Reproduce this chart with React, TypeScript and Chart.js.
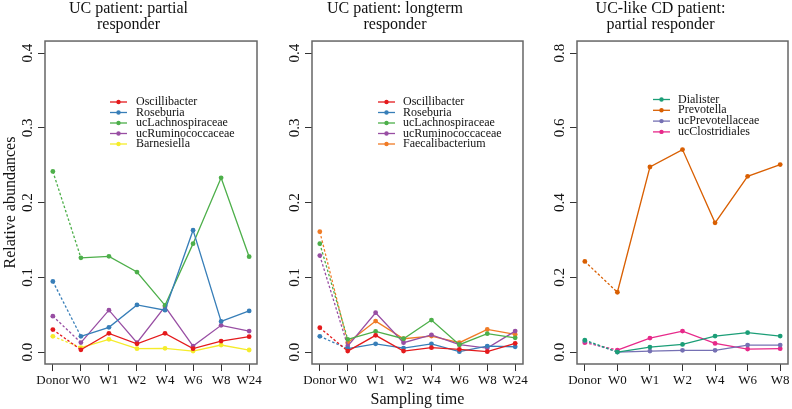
import React, { useEffect, useRef } from "react";
import { Chart, registerables } from "chart.js";

Chart.register(...registerables);

const FONT = "'Liberation Serif', 'DejaVu Serif', serif";

// categories
const weeksUC = ["Donor", "W0", "W1", "W2", "W4", "W6", "W8", "W24"];
const weeksCD = ["Donor", "W0", "W1", "W2", "W4", "W6", "W8"];
const yTicksUC = [0, 0.1, 0.2, 0.3, 0.4];
const yTicksCD = [0, 0.2, 0.4, 0.6, 0.8];

// panel 1: UC partial responder
const p1Oscillibacter = [0.030, 0.003, 0.025, 0.011, 0.025, 0.0045, 0.0147, 0.0206];
const p1Roseburia = [0.0945, 0.021, 0.033, 0.063, 0.056, 0.163, 0.041, 0.055];
const p1ucLachnospiraceae = [0.2416, 0.126, 0.128, 0.107, 0.0624, 0.145, 0.233, 0.1275];
const p1ucRuminococcaceae = [0.048, 0.0126, 0.056, 0.0126, 0.0607, 0.008, 0.0357, 0.028];
const p1Barnesiella = [0.021, 0.006, 0.017, 0.0045, 0.005, 0.0013, 0.0094, 0.0027];

// panel 2: UC longterm responder
const p2Oscillibacter = [0.0325, 0.0013, 0.0223, 0.0013, 0.0058, 0.0036, 0.0005, 0.0116];
const p2Roseburia = [0.021, 0.0045, 0.011, 0.0053, 0.011, 0.0005, 0.008, 0.0071];
const p2ucLachnospiraceae = [0.145, 0.017, 0.0276, 0.0178, 0.0428, 0.0098, 0.0245, 0.019];
const p2ucRuminococcaceae = [0.129, 0.008, 0.0526, 0.0125, 0.023, 0.0098, 0.0053, 0.028];
const p2Faecalibacterium = [0.161, 0.0125, 0.0414, 0.0178, 0.0214, 0.0125, 0.0303, 0.0236];

// panel 3: UC-like CD partial responder
const p3Dialister = [0.032, 0.0, 0.0134, 0.0205, 0.0428, 0.0517, 0.0428];
const p3Prevotella = [0.2423, 0.160, 0.495, 0.5416, 0.3457, 0.470, 0.5016];
const p3ucPrevotellaceae = [0.0294, 0.0, 0.0027, 0.0045, 0.0045, 0.0187, 0.0187];
const p3ucClostridiales = [0.025, 0.0053, 0.0374, 0.056, 0.023, 0.008, 0.0089];

type Series = { label: string; values: number[]; color: string };

type PanelProps = {
  left: number;
  width: number;
  yAxisWidth: number;
  padRight: number;
  title: string[];
  cats: string[];
  series: Series[];
  yMax: number;
  yTicks: number[];
  legend: { x0: number; x1: number; tx: number; y0: number; dy: number };
  showYTitle: boolean;
  showXTitle: boolean;
};

function Panel(props: PanelProps) {
  const ref = useRef<HTMLCanvasElement | null>(null);
  useEffect(() => {
    if (!ref.current) return;
    const { cats, series, yMax, yTicks, legend } = props;
    const n = cats.length - 1;

    const boxPlugin = {
      id: "boxPlugin",
      beforeDatasetsDraw(chart: any) {
        const { ctx, chartArea } = chart;
        ctx.save();
        ctx.strokeStyle = "#666";
        ctx.lineWidth = 1.5;
        ctx.strokeRect(chartArea.left, chartArea.top, chartArea.right - chartArea.left, chartArea.bottom - chartArea.top);
        ctx.restore();
      },
    };

    const legendPlugin = {
      id: "legendPlugin",
      afterDatasetsDraw(chart: any) {
        const { ctx } = chart;
        ctx.save();
        chart.data.datasets.forEach((ds: any, i: number) => {
          const y = legend.y0 + i * legend.dy;
          ctx.strokeStyle = ds.borderColor;
          ctx.lineWidth = 1.3;
          ctx.beginPath();
          ctx.moveTo(legend.x0, y);
          ctx.lineTo(legend.x1, y);
          ctx.stroke();
          ctx.fillStyle = ds.borderColor;
          ctx.beginPath();
          ctx.arc((legend.x0 + legend.x1) / 2, y, 2.2, 0, Math.PI * 2);
          ctx.fill();
          ctx.fillStyle = "#111";
          ctx.font = `12px ${FONT}`;
          ctx.textBaseline = "middle";
          ctx.textAlign = "left";
          ctx.fillText(ds.label, legend.tx, y);
        });
        ctx.restore();
      },
    };

    const chart = new Chart(ref.current, {
      type: "line",
      data: {
        datasets: series.map((s) => ({
          label: s.label,
          data: s.values.map((v, i) => ({ x: i, y: v })),
          borderColor: s.color,
          backgroundColor: s.color,
          pointBackgroundColor: s.color,
          pointBorderWidth: 0,
          pointRadius: 2.4,
          borderWidth: 1.3,
          tension: 0,
          segment: {
            borderDash: (ctx: any) => (ctx.p0DataIndex === 0 ? [2.5, 2] : undefined),
          },
        })),
      },
      options: {
        responsive: false,
        animation: false,
        layout: { padding: { left: 0, right: props.padRight, top: 0, bottom: 0 } },
        plugins: {
          legend: { display: false },
          tooltip: { enabled: false },
          title: {
            display: true,
            text: props.title,
            color: "#111",
            font: { family: FONT, size: 16, weight: "normal", lineHeight: 0.97 },
            padding: { top: 1.25, bottom: 8.75 },
          },
        },
        scales: {
          x: {
            type: "linear",
            min: -0.04 * n,
            max: n * 1.04,
            afterBuildTicks: (s: any) => {
              s.ticks = cats.map((_, i) => ({ value: i }));
            },
            afterFit: (s: any) => {
              s.height = 45;
            },
            ticks: {
              callback: (v: any) => cats[Math.round(Number(v))] ?? "",
              autoSkip: false,
              maxRotation: 0,
              minRotation: 0,
              padding: 2,
              color: "#111",
              font: { family: FONT, size: 13 },
            },
            grid: { drawOnChartArea: false, drawTicks: true, tickLength: 7, color: "#333" },
            border: { display: false },
            title: {
              display: props.showXTitle,
              text: "Sampling time",
              color: "#111",
              font: { family: FONT, size: 16, lineHeight: 1 },
              padding: { top: 0, bottom: 1 },
            },
          },
          y: {
            type: "linear",
            min: -0.04 * yMax,
            max: yMax * 1.04,
            afterBuildTicks: (s: any) => {
              s.ticks = yTicks.map((v) => ({ value: v }));
            },
            afterFit: (s: any) => {
              s.width = props.yAxisWidth;
            },
            ticks: {
              callback: (v: any) => Number(v).toFixed(1),
              minRotation: 90,
              maxRotation: 90,
              crossAlign: "center",
              padding: 0.5,
              color: "#111",
              font: { family: FONT, size: 15 },
            },
            grid: { drawOnChartArea: false, drawTicks: true, tickLength: 7, color: "#333" },
            border: { display: false },
            title: {
              display: props.showYTitle,
              text: "Relative abundances",
              color: "#111",
              font: { family: FONT, size: 16, lineHeight: 1 },
              padding: { top: 2.5, bottom: 0 },
            },
          },
        },
      } as any,
      plugins: [boxPlugin, legendPlugin],
    });
    return () => chart.destroy();
  }, []);

  return (
    <canvas
      ref={ref}
      width={props.width}
      height={409}
      style={{ position: "absolute", left: props.left, top: 0, width: props.width, height: 409, display: "block" }}
    />
  );
}

export default function App() {
  return (
    <div style={{ position: "fixed", left: 0, top: 0, width: 792, height: 409, background: "#fff", overflow: "hidden" }}>
      <Panel
        left={0}
        width={265}
        yAxisWidth={45}
        padRight={8}
        title={["UC patient: partial", "responder"]}
        cats={weeksUC}
        yMax={0.4}
        yTicks={yTicksUC}
        showYTitle={true}
        showXTitle={false}
        legend={{ x0: 110, x1: 127, tx: 136, y0: 102, dy: 10.5 }}
        series={[
          { label: "Oscillibacter", values: p1Oscillibacter, color: "#E41A1C" },
          { label: "Roseburia", values: p1Roseburia, color: "#377EB8" },
          { label: "ucLachnospiraceae", values: p1ucLachnospiraceae, color: "#4DAF4A" },
          { label: "ucRuminococcaceae", values: p1ucRuminococcaceae, color: "#984EA3" },
          { label: "Barnesiella", values: p1Barnesiella, color: "#F5EC2A" },
        ]}
      />
      <Panel
        left={265}
        width={265}
        yAxisWidth={47}
        padRight={5}
        title={["UC patient: longterm", "responder"]}
        cats={weeksUC}
        yMax={0.4}
        yTicks={yTicksUC}
        showYTitle={false}
        showXTitle={true}
        legend={{ x0: 378 - 265, x1: 395 - 265, tx: 403 - 265, y0: 102, dy: 10.5 }}
        series={[
          { label: "Oscillibacter", values: p2Oscillibacter, color: "#E41A1C" },
          { label: "Roseburia", values: p2Roseburia, color: "#377EB8" },
          { label: "ucLachnospiraceae", values: p2ucLachnospiraceae, color: "#4DAF4A" },
          { label: "ucRuminococcaceae", values: p2ucRuminococcaceae, color: "#984EA3" },
          { label: "Faecalibacterium", values: p2Faecalibacterium, color: "#F07B26" },
        ]}
      />
      <Panel
        left={530}
        width={262}
        yAxisWidth={47}
        padRight={1}
        title={["UC-like CD patient:", "partial responder"]}
        cats={weeksCD}
        yMax={0.8}
        yTicks={yTicksCD}
        showYTitle={false}
        showXTitle={false}
        legend={{ x0: 653 - 530, x1: 670 - 530, tx: 678 - 530, y0: 99.5, dy: 10.8 }}
        series={[
          { label: "Dialister", values: p3Dialister, color: "#1B9E77" },
          { label: "Prevotella", values: p3Prevotella, color: "#D95F02" },
          { label: "ucPrevotellaceae", values: p3ucPrevotellaceae, color: "#7570B3" },
          { label: "ucClostridiales", values: p3ucClostridiales, color: "#E7298A" },
        ]}
      />
    </div>
  );
}
